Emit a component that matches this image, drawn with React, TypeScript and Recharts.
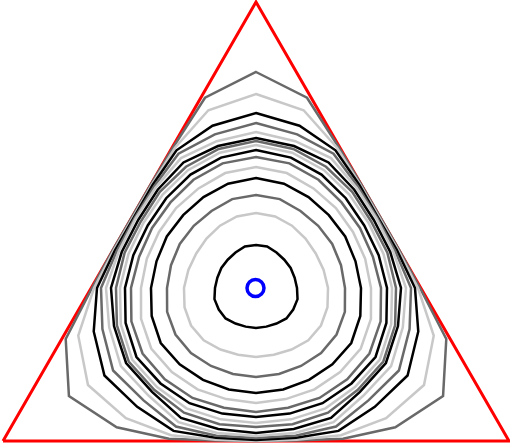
import React from "react";
import {
  ComposedChart,
  Line,
  Scatter,
  XAxis,
  YAxis,
  RadarChart,
  Radar,
  PolarAngleAxis,
  PolarRadiusAxis,
} from "recharts";

// triangle corners in ternary (cartesian) units, side = 1
const triangle = [
  { x: 0, y: 0 },
  { x: 1, y: 0 },
  { x: 0.5, y: 0.8676 },
  { x: 0, y: 0 },
];

// blue marker (mode)
const marker = [{ x: 0.499, y: 0.3024 }];

// contour rings, inner -> outer, radius read in each sector of the triangle
const ringColors = [
  "#000000", "#c8c8c8", "#696969",
  "#000000", "#c8c8c8", "#696969",
  "#000000", "#c8c8c8", "#696969",
  "#000000", "#c8c8c8", "#696969",
  "#000000", "#c8c8c8", "#696969",
];
const vertexR = [43, 75, 93, 110, 121, 131, 138, 143, 147, 150, 156, 165, 175, 194, 216];
const nearVertexR = [43, 74, 92, 108, 119, 129, 135, 140, 144, 147, 152, 159, 168, 184, 197];
const midUpperR = [41, 72, 89, 105, 115, 125, 131, 136, 140, 145, 150, 155, 159, 162, 164];
const midLowerR = [41, 71, 90, 106, 117, 127, 133, 139, 144, 150, 155, 160, 165, 170, 174];
const nearEdgeUpperR = [40, 70, 88, 103, 113, 121, 127, 132, 136, 139, 142, 144, 146, 147, 148];
const nearEdgeLowerR = [40, 69, 89, 105, 115, 124, 130, 136, 141, 146, 150, 153, 155, 157, 158];
const edgeUpperR = [40, 69, 88, 103, 112, 120, 125, 130, 133, 136, 139, 140, 141, 142, 143];
const edgeLowerR = [40, 69, 89, 105, 115, 124, 129, 135, 139, 145, 148, 150, 152, 153, 153];

// 24 directions clockwise from the top vertex, every 15 degrees
const directions = [
  vertexR, nearVertexR, midUpperR, nearEdgeUpperR, edgeUpperR, nearEdgeUpperR,
  midUpperR, nearVertexR, vertexR, nearVertexR, midLowerR, nearEdgeLowerR,
  edgeLowerR, nearEdgeLowerR, midLowerR, nearVertexR, vertexR, nearVertexR,
  midUpperR, nearEdgeUpperR, edgeUpperR, nearEdgeUpperR, midUpperR, nearVertexR,
];

const ringData = directions.map((profile, i) => {
  const row: Record<string, number> = { dir: i * 15 };
  profile.forEach((r, k) => {
    row[`ring${k}`] = r;
  });
  return row;
});

const MarkerShape = (props: any) => (
  <circle cx={props.cx} cy={props.cy} r={8.5} fill="none" stroke="#0000ff" strokeWidth={3.5} />
);

export default function App() {
  return (
    <div style={{ position: "absolute", left: 0, top: 0, width: 510, height: 444, background: "#fff" }}>
      <div style={{ position: "absolute", left: 0, top: 0 }}>
        <ComposedChart
          width={510}
          height={444}
          data={triangle}
          margin={{ top: 2, right: 1, bottom: 3, left: 3 }}
        >
          <XAxis type="number" dataKey="x" domain={[0, 1]} hide />
          <YAxis type="number" domain={[0, 0.8676]} hide />
          <Line
            dataKey="y"
            type="linear"
            stroke="#ff0000"
            strokeWidth={3}
            dot={false}
            isAnimationActive={false}
          />
          <Scatter data={marker} dataKey="y" shape={<MarkerShape />} isAnimationActive={false} />
        </ComposedChart>
      </div>
      <div style={{ position: "absolute", left: 0, top: 0 }}>
        <RadarChart
          width={510}
          height={444}
          data={ringData}
          cx={256}
          cy={288}
          outerRadius={300}
          startAngle={90}
          endAngle={-270}
          margin={{ top: 0, right: 0, bottom: 0, left: 0 }}
        >
          <PolarAngleAxis dataKey="dir" tick={false} axisLine={false} tickLine={false} />
          <PolarRadiusAxis domain={[0, 300]} tick={false} axisLine={false} />
          {ringColors
            .map((c, k) => (
              <Radar
                key={k}
                dataKey={`ring${k}`}
                stroke={c}
                strokeWidth={2.5}
                fill="none"
                fillOpacity={0}
                dot={false}
                isAnimationActive={false}
              />
            ))
            .reverse()}
        </RadarChart>
      </div>
    </div>
  );
}
